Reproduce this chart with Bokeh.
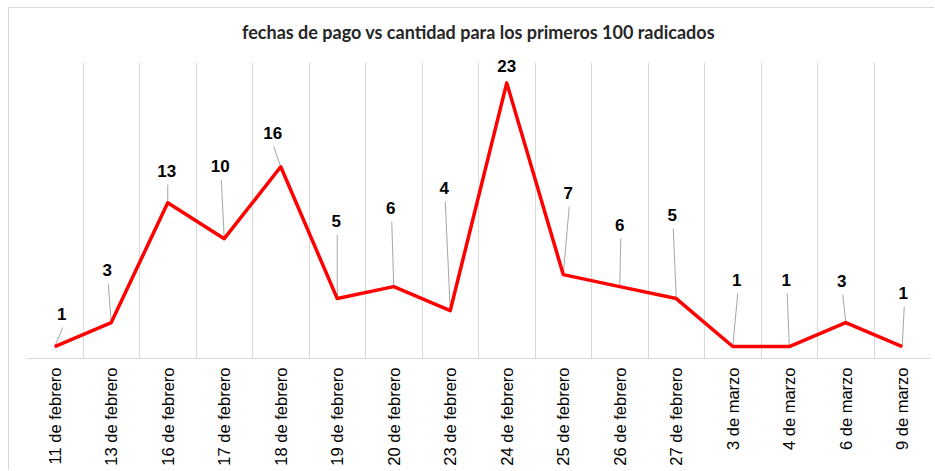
import math
from bokeh.plotting import figure
from bokeh.models import Range1d, FixedTicker, ColumnDataSource, LabelSet, Label
from bokeh.core.properties import value
from bokeh.embed import file_html
from bokeh.resources import INLINE

# ---- data ----
categories = ["11 de febrero", "13 de febrero", "16 de febrero", "17 de febrero",
              "18 de febrero", "19 de febrero", "20 de febrero", "23 de febrero",
              "24 de febrero", "25 de febrero", "26 de febrero", "27 de febrero",
              "3 de marzo", "4 de marzo", "6 de marzo", "9 de marzo"]
cantidad = [1, 3, 13, 10, 16, 5, 6, 4, 23, 7, 6, 5, 1, 1, 3, 1]
title_text = "fechas de pago vs cantidad para los primeros 100 radicados"

# ---- layout of data labels (screen px offsets from the point, y down) ----
label_dx = [7, -4, -1, -4, -8, -1, -3, -6, 0, 5, 0, -4, 4, -3, -4, 1]
label_dy = [-33, -53, -32, -73, -34, -78, -79, -123, -17, -82, -62, -84, -67, -67, -42, -54]
has_leader = [True] * 8 + [False] + [True] * 7

FRAME_L, FRAME_T, FRAME_W, FRAME_H = 17, 54, 904, 296   # plot area inside the chart box
BORDER_R, BORDER_B = 4, 112
TITLE_Y = 23                                            # title centre, px from top
Y_MAX = 24.7
n = len(categories)
px_x = FRAME_W / n
px_y = FRAME_H / Y_MAX
y_top = Y_MAX + FRAME_T / px_y

xs = list(range(n))

p = figure(frame_width=FRAME_W, frame_height=FRAME_T + FRAME_H,
           output_backend="svg", toolbar_location=None,
           x_range=Range1d(-0.5, n - 0.5), y_range=Range1d(0, y_top),
           min_border_left=FRAME_L, min_border_top=0,
           min_border_right=BORDER_R, min_border_bottom=BORDER_B,
           styles={"margin-left": "8px", "margin-top": "7px",
                   "border-left": "1px solid #d9d9d9",
                   "border-top": "1px solid #d9d9d9"})
p.outline_line_color = None
p.background_fill_color = "white"
p.border_fill_color = "white"

# title
p.add_layout(Label(x=(n - 1) / 2, y=y_top - TITLE_Y / px_y, text=title_text,
                   text_align="center", text_baseline="middle",
                   text_font="Lato", text_font_size="18px", text_font_style="bold",
                   text_color="#262626"))

# axes
p.yaxis.visible = False
p.ygrid.grid_line_color = None
p.xaxis.ticker = FixedTicker(ticks=xs)
p.xaxis.major_label_overrides = {i: c for i, c in enumerate(categories)}
p.xaxis.major_label_orientation = math.pi / 2
p.xaxis.major_label_text_font = "Liberation Sans"
p.xaxis.major_label_text_font_size = "16.5px"
p.xaxis.major_label_text_color = "#000000"
p.xaxis.major_label_standoff = 9
p.xaxis.axis_line_color = "#d9d9d9"
p.xaxis.axis_line_width = 1
p.xaxis.major_tick_line_color = None
p.xaxis.minor_tick_line_color = None
p.xaxis.major_tick_out = 0
p.xaxis.major_tick_in = 0
p.xaxis.minor_tick_out = 0
p.xaxis.minor_tick_in = 0

p.xgrid.ticker = FixedTicker(ticks=[i - 0.5 for i in range(n + 1)])
p.xgrid.grid_line_color = "#d9d9d9"
p.xgrid.grid_line_width = 1
p.xgrid.cross_bounds = (0, Y_MAX)

# leader lines
lx0, ly0, lx1, ly1 = [], [], [], []
for i, v in enumerate(cantidad):
    if has_leader[i]:
        lx0.append(xs[i])
        ly0.append(v)
        lx1.append(xs[i] + (label_dx[i] + 1) / px_x)
        ly1.append(v - (label_dy[i] + 14) / px_y)
p.segment(x0=lx0, y0=ly0, x1=lx1, y1=ly1, line_color="#a6a6a6", line_width=1)

# series line
p.line(xs, cantidad, line_color="#ff0000", line_width=3.5, line_join="round")

# data labels
src = ColumnDataSource(dict(x=xs, y=cantidad, t=[str(v) for v in cantidad],
                            dx=label_dx, dy=[-d for d in label_dy]))
labels = LabelSet(x="x", y="y", text="t", x_offset="dx", y_offset="dy", source=src,
                  text_align="center", text_baseline="middle",
                  text_font=value("Liberation Sans"), text_font_size="17px",
                  text_font_style="bold", text_color="#000000")
p.add_layout(labels)

open("out.html", "w").write(file_html(p, INLINE))
